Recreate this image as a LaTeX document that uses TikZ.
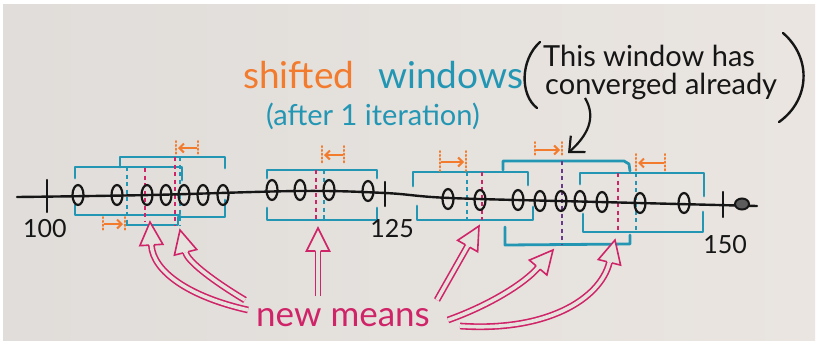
\documentclass[tikz,border=0pt]{standalone}
\usepackage{fontspec}
\setmainfont{Lato}
\usetikzlibrary{arrows.meta,decorations.markings,shapes.geometric}
\definecolor{paperL}{HTML}{E0DDDA}
\definecolor{paperR}{HTML}{EAE5E0}
\definecolor{paper}{HTML}{E6E2DD}
\definecolor{winc}{HTML}{2396B4}
\definecolor{orng}{HTML}{F27B2E}
\definecolor{mag}{HTML}{CF2468}
\definecolor{ink}{HTML}{161616}
\definecolor{purp}{HTML}{6A3A8A}
\tikzset{
  win/.style={draw=winc, line width=2.8pt, line join=round, line cap=round},
  oldc/.style={draw=winc, line width=1.8pt, dash pattern=on 4pt off 3.5pt},
  newm/.style={draw=mag, line width=1.6pt, dash pattern=on 4pt off 3.5pt},
  convc/.style={draw=purp, line width=1.8pt, dash pattern=on 4pt off 3.5pt},
  ptc/.style={ellipse, draw=ink, line width=2.2pt, minimum width=11pt, minimum height=20pt, inner sep=0pt},
  blob/.style={ellipse, draw=ink, fill=ink!70, line width=2pt, minimum width=14pt, minimum height=11pt, inner sep=0pt},
  sbar/.style={draw=orng, line width=2pt, dash pattern=on 1.2pt off 2.6pt, line cap=round},
  sarr/.style={draw=orng, line width=2pt, -{Straight Barb[length=4.5pt,width=9pt]}},
  shaft/.style={draw=mag, line width=1.6pt, double=paper, double distance=3.6pt, shorten >=23pt},
  headmark/.style={postaction={decorate}, decoration={markings, mark=at position 0.9999 with {\draw[mag, line width=1.6pt, fill=paper, line join=miter] (-23pt,2.6pt) -- (-23pt,11.5pt) -- (0pt,0pt) -- (-23pt,-11.5pt) -- (-23pt,-2.6pt);}}},
  lbl/.style={inner sep=0pt, text=ink},
  axisc/.style={draw=ink, line width=2.4pt, line cap=round},
}
\newcommand\hollowarr[1]{\draw[shaft] #1; \path[headmark] #1;}
\begin{document}
\begin{tikzpicture}[x=1pt,y=-1pt]
\useasboundingbox (0,0) rectangle (819,346);
\fill[white] (0,0) rectangle (819,346);
\shade[left color=paperL, right color=paperR] (3,4) rectangle (815,340);

% ---- windows (teal brackets)
% left group
\draw[win] (75,178) -- (75,167) -- (182,167) -- (182,180);
\draw[win] (75,205) -- (75,215) -- (180,215);
\draw[win] (120,167) -- (120,157) -- (225,157) -- (225,168);
\draw[win] (125,225) -- (178,225) -- (178,217) -- (225,217) -- (225,200);
% middle
\draw[win] (267,178) -- (267,170) -- (377,170) -- (377,178);
\draw[win] (267,208) -- (267,220) -- (377,220) -- (377,208);
% window C
\draw[win] (413,186) -- (413,172) -- (528,172) -- (528,185);
\draw[win] (417,206) -- (417,220) -- (533,220) -- (533,207);
% window D (converged)
\draw[win] (503,170) -- (503,161) -- (624,161) -- (629,164) -- (630,171);
\draw[win] (505,227) -- (505,245) -- (630,244) -- (630,235);
% window E
\draw[win] (580,184) -- (580,173) -- (704,173) -- (704,196);
\draw[win] (583,214) -- (583,232) -- (703,232) -- (703,212);

% ---- centre lines (old centre teal, new mean magenta)
\draw[oldc] (127,167) -- (127,225);
\draw[newm] (145,168) -- (145,222);
\draw[oldc] (180,157) -- (180,225);
\draw[newm] (175,157) -- (175,225);
\draw[newm] (316,170) -- (316,220);
\draw[oldc] (324,170) -- (324,220);
\draw[oldc] (467,172) -- (467,220);
\draw[newm] (482,172) -- (482,220);
\draw[convc] (562,161) -- (562,245);
\draw[newm] (618,173) -- (618,232);
\draw[oldc] (636,173) -- (636,232);

% ---- number line
\draw[axisc] plot[smooth, tension=0.6] coordinates {(17,197) (150,195) (300,191) (385,193) (450,198) (600,202) (757,206)};
\draw[axisc] (47,180) -- (47,212);
\draw[axisc] (385,182) -- (385,206);
\draw[axisc] (723,192) -- (723,217);

% ---- data points
\foreach \n/\x/\y in {a1/78/195, a2/117/195, a3/147/195, a4/166/195, a5/184/195, a6/203/195, a7/223/195,
  b1/272/190, b2/300/190, b3/329/190, b4/368/191,
  c1/448/199, c2/480/200, c3/518/200, c4/540/201, c5/561/201, c6/580/201, c7/602/202, c8/640/203, c9/684/203}
  \node[ptc] (\n) at (\x,\y) {};
\node[blob] (c10) at (742,204) {};

% ---- shift arrows (orange)
\draw[sbar] (176,141) -- (176,155);
\draw[sbar] (198,141) -- (198,155);
\draw[sarr] (197,148) -- (178,148);
\draw[sbar] (103,217) -- (103,231);
\draw[sbar] (125,217) -- (125,232);
\draw[sarr] (104,224) -- (123,224);
\draw[sbar] (322,146) -- (322,163);
\draw[sbar] (344,146) -- (344,163);
\draw[sarr] (343,155) -- (324,155);
\draw[sbar] (440,151) -- (440,171);
\draw[sbar] (466,151) -- (466,171);
\draw[sarr] (441,162) -- (464,162);
\draw[sbar] (535,142) -- (535,157);
\draw[sbar] (562,142) -- (562,157);
\draw[sarr] (536,150) -- (560,150);
\draw[sbar] (636,154) -- (636,171);
\draw[sbar] (665,154) -- (665,171);
\draw[sarr] (664,163) -- (638,163);

% ---- axis labels
\node[lbl, font=\fontsize{25}{28}\selectfont] (l100) at (45,229) {100};
\node[lbl, font=\fontsize{25}{28}\selectfont] (l125) at (392,229) {125};
\node[lbl, font=\fontsize{25}{28}\selectfont] (l150) at (725,245) {150};

% ---- titles
\node[anchor=base west, inner sep=0pt, text=orng, font=\fontsize{37}{40}\selectfont] (sh) at (243,88) {shifted};
\node[anchor=base west, inner sep=0pt, text=winc, font=\fontsize{37}{40}\selectfont] (wd) at (378,88) {windows};
\node[anchor=base west, inner sep=0pt, text=winc, font=\fontsize{29}{32}\selectfont] (it) at (266,125) {(after 1 iteration)};
\node[anchor=base west, lbl, font=\fontsize{29}{32}\selectfont] (cv1) at (543,66) {This window has};
\node[anchor=base west, lbl, font=\fontsize{29}{32}\selectfont] (cv2) at (545,94) {converged already};
\draw[ink, line width=2.4pt, line cap=round] (540,42) .. controls (520,60) and (520,95) .. (537,108);
\draw[ink, line width=2.4pt, line cap=round] (783,33) .. controls (812,58) and (810,100) .. (779,122);
\coordinate (ka) at (585,98);
\coordinate (kb) at (568,153);
\draw[ink, line width=2.2pt, -{Straight Barb[length=12pt,width=22pt]}] (ka) .. controls (597,118) and (587,136) .. (kb);

% ---- new means
\node[anchor=base west, inner sep=0pt, text=mag, font=\fontsize{35}{38}\selectfont] (nm) at (256,326) {new means};
\coordinate (s1) at (248,310); \coordinate (h1) at (150,222);
\coordinate (s2) at (245,300); \coordinate (h2) at (180,230);
\coordinate (s3) at (318,296); \coordinate (h3) at (318,228);
\coordinate (s4) at (437,300); \coordinate (h4) at (479,226);
\coordinate (s5) at (448,320); \coordinate (h5) at (553,250);
\coordinate (s6) at (460,326); \coordinate (h6) at (615,240);
\hollowarr{(s1) .. controls (190,297) and (153,272) .. (h1)}
\hollowarr{(s2) .. controls (215,282) and (188,262) .. (h2)}
\hollowarr{(s3) -- (h3)}
\hollowarr{(s4) -- (h4)}
\hollowarr{(s5) .. controls (490,305) and (525,283) .. (h5)}
\hollowarr{(s6) .. controls (545,332) and (600,300) .. (h6)}
\end{tikzpicture}
\end{document}
